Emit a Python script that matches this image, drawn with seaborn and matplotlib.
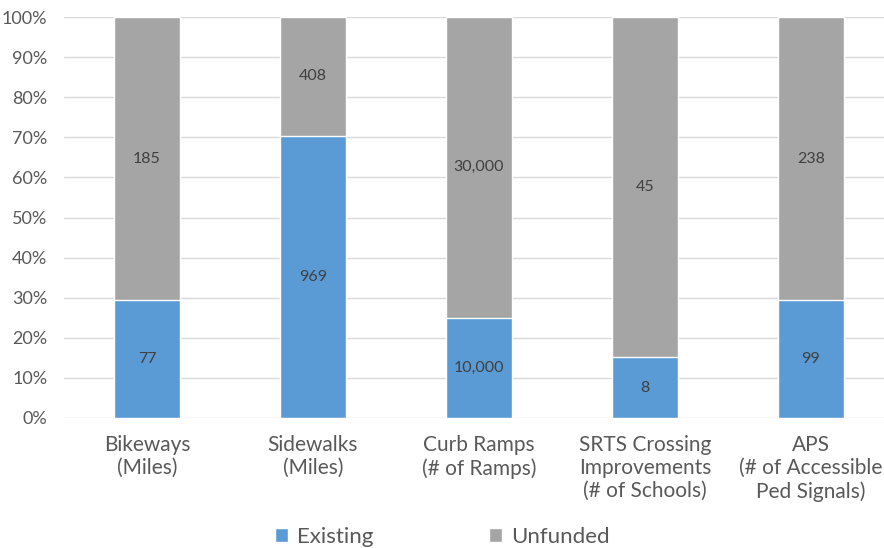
import numpy as np
import pandas as pd
import matplotlib
matplotlib.use("Agg")
import matplotlib.pyplot as plt
from matplotlib.ticker import PercentFormatter
from matplotlib.patches import Patch
import seaborn as sns

categories = ["Bikeways\n(Miles)", "Sidewalks\n(Miles)", "Curb Ramps\n(# of Ramps)",
              "SRTS Crossing\nImprovements\n(# of Schools)", "APS\n(# of Accessible\nPed Signals)"]
existing = [77, 969, 10000, 8, 99]
unfunded = [185, 408, 30000, 45, 238]
series_names = ["Existing", "Unfunded"]

blue = "#5B9BD5"
grey = "#A5A5A5"
txt = "#595959"

sns.set_theme(style="white")
plt.rcParams["font.family"] = ["Lato", "DejaVu Sans"]

df = pd.DataFrame({"cat": categories, "existing": existing, "unfunded": unfunded})
df["total"] = df["existing"] + df["unfunded"]
df["ex_pct"] = df["existing"] / df["total"]
df["full"] = 1.0

fig = plt.figure(figsize=(8.84, 5.48), dpi=100)
ax = fig.add_axes([64 / 884, 1 - 418 / 548, 1 - 64 / 884, 401 / 548])

sns.barplot(data=df, x="cat", y="full", color=grey, width=0.4, saturation=1, ax=ax, zorder=2)
sns.barplot(data=df, x="cat", y="ex_pct", color=blue, width=0.4, saturation=1, ax=ax, zorder=3)

# segment labels
for i, row in df.iterrows():
    ax.text(i, row["ex_pct"] / 2, f"{row['existing']:,}", ha="center", va="center",
            fontsize=11.5, color="#404040", zorder=4)
    ax.text(i, row["ex_pct"] + (1 - row["ex_pct"]) / 2, f"{row['unfunded']:,}", ha="center",
            va="center", fontsize=11.5, color="#404040", zorder=4)

ax.set_ylim(0, 1)
ax.set_xlim(-0.5, 4.44)
ax.set_yticks(np.arange(0, 1.01, 0.1))
ax.yaxis.set_major_formatter(PercentFormatter(1.0, decimals=0))
ax.grid(axis="y", color="#D9D9D9", linewidth=1, zorder=0)
ax.set_axisbelow(True)
for s in ax.spines.values():
    s.set_visible(False)
ax.set_xlabel("")
ax.set_ylabel("")
ax.tick_params(axis="y", length=0, labelsize=13, labelcolor=txt, pad=12)
ax.tick_params(axis="x", length=0, labelsize=15, labelcolor=txt, pad=12)
for lab in ax.get_xticklabels():
    lab.set_linespacing(1.2)

handles = [Patch(facecolor=blue, label=series_names[0]),
           Patch(facecolor=grey, label=series_names[1])]
fig.legend(handles=handles, loc="lower center", bbox_to_anchor=(0.5, -0.035), ncol=2,
           frameon=False, fontsize=16, labelcolor=txt, handlelength=0.6, handleheight=0.6,
           columnspacing=5.2, handletextpad=0.4)

fig.savefig("out.png", dpi=100)
